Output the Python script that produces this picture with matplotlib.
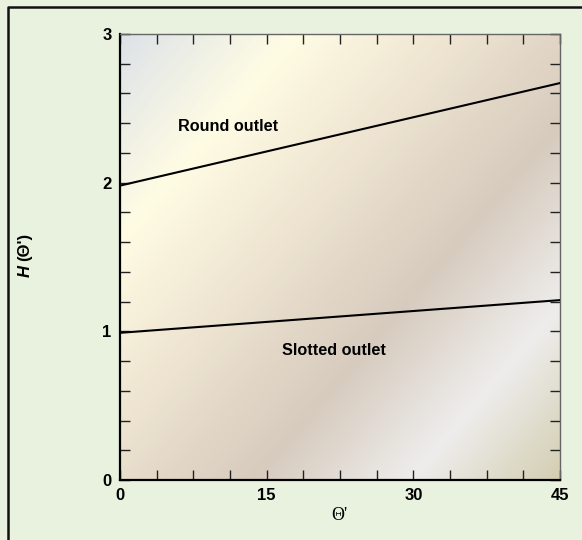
import numpy as np
import matplotlib
matplotlib.use("Agg")
from matplotlib import pyplot as plt
from matplotlib.colors import LinearSegmentedColormap
from matplotlib.lines import Line2D

# datos
theta = [0, 45]
round_outlet = [1.98, 2.67]
slotted_outlet = [0.99, 1.21]
x_ticks = [0, 15, 30, 45]
y_ticks = [0, 1, 2, 3]

fig = plt.figure(figsize=(5.82, 5.40), dpi=100)
fig.patch.set_facecolor("#E9F2DE")
fig.patch.set_edgecolor("#E9F2DE")
# borde negro (solo arriba e izquierda visibles)
bx, by = 7.5 / 582, 1 - 6.5 / 540
fig.add_artist(Line2D([bx, bx, 1.0], [0.0, by, by], transform=fig.transFigure,
                      color="#111111", linewidth=1.8, solid_capstyle="butt"))

ax = fig.add_axes([120 / 582, 60 / 540, 440 / 582, 446 / 540])

# fondo degradado diagonal
W, H = 440, 446
xx, yy = np.meshgrid(np.arange(W), np.arange(H))
s = (200 * xx + 173 * yy) / (200 * (W - 1) + 173 * (H - 1))
cmap = LinearSegmentedColormap.from_list("fondo", [
    (0.0, "#DCE2E8"), (0.21, "#FFFCE4"), (0.42, "#EDE3D0"), (0.63, "#D7CBBE"),
    (0.82, "#EEEDEC"), (1.0, "#D4CEB2")])
ax.imshow(s, cmap=cmap, extent=[0, 45, 0, 3], aspect="auto", origin="upper", zorder=0)

ax.plot(theta, round_outlet, color="black", linewidth=1.5, zorder=3)
ax.plot(theta, slotted_outlet, color="black", linewidth=1.5, zorder=3)
ax.text(5.9, 2.38, "Round outlet", fontsize=11.7, fontweight="bold", family="Liberation Sans",
        va="center", ha="left")
ax.text(16.6, 0.87, "Slotted outlet", fontsize=11.7, fontweight="bold", family="Liberation Sans",
        va="center", ha="left")

ax.set_xlim(0, 45)
ax.set_ylim(0, 3)
ax.set_xticks(x_ticks)
ax.set_yticks(y_ticks)
ax.set_xticks(np.arange(0, 45.01, 3.75), minor=True)
ax.set_yticks(np.arange(0, 3.01, 0.2), minor=True)
ax.tick_params(which="both", direction="in", top=True, right=True, length=7, width=1, color="#222222")
ax.tick_params(which="major", labelsize=12, pad=6)
for lab in ax.get_xticklabels() + ax.get_yticklabels():
    lab.set_fontweight("bold")
    lab.set_family("Liberation Sans")

ax.spines["left"].set_linewidth(1.6)
ax.spines["bottom"].set_linewidth(1.6)
ax.spines["top"].set_color("#666666")
ax.spines["right"].set_color("#666666")
ax.spines["top"].set_linewidth(1.0)
ax.spines["right"].set_linewidth(1.0)

# etiquetas de los ejes
fig.text(25 / 582, 1 - 271 / 540, "H", rotation=90, fontsize=12, fontweight="bold",
         fontstyle="italic", family="Liberation Sans", ha="center", va="center")
fig.text(25 / 582, 1 - 247 / 540, "(\u0398')", rotation=90, fontsize=12, fontweight="bold",
         family="Liberation Sans", ha="center", va="center")
fig.text(339 / 582, 1 - 516 / 540, "\u0398'", fontsize=13, family="Liberation Serif",
         ha="center", va="center")

fig.savefig("out.png", dpi=100, facecolor=fig.get_facecolor(), edgecolor=fig.get_facecolor())
